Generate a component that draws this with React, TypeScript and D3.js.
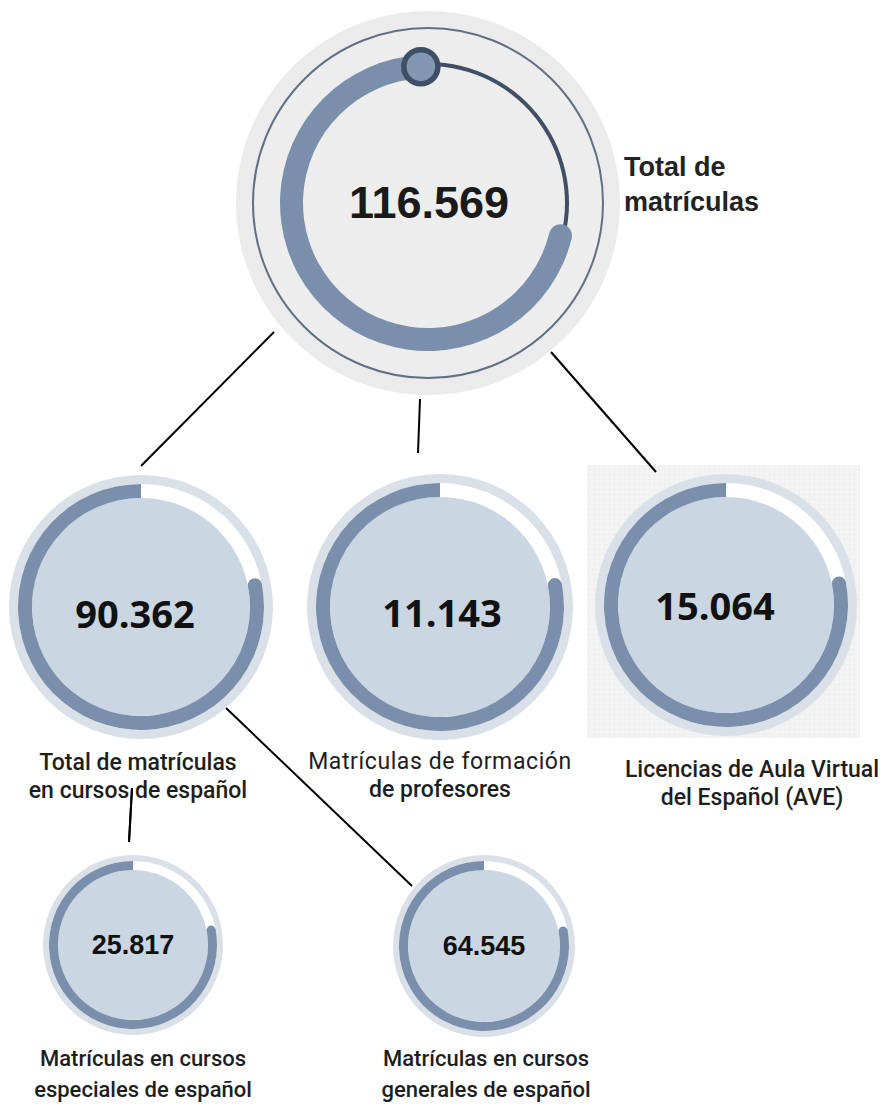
import React from "react";
import * as d3 from "d3";

// ---------- data ----------
const nodeIds = ["total", "cursos", "formacion", "ave", "especiales", "generales"];
const nodeValues = [116569, 90362, 11143, 15064, 25817, 64545];
const nodeParents = [null, "total", "total", "total", "cursos", "cursos"];
const progressShare = [0.703, 0.78, 0.78, 0.78, 0.78, 0.78];
const labelLines = [
  ["Total de", "matrículas"],
  ["Total de matrículas", "en cursos de español"],
  ["Matrículas de formación", "de profesores"],
  ["Licencias de Aula Virtual", "del Español (AVE)"],
  ["Matrículas en cursos", "especiales de español"],
  ["Matrículas en cursos", "generales de español"],
];

// ---------- layout ----------
const W = 880;
const H = 1106;
type Lay = { cx: number; cy: number; r: number; arcOut: number; arcIn: number; vSize: number; vFont: string; vDx: number; vDy: number; lx: number; ly: number; lSize: number; lGap: number; anchor: string };
const layout: Record<string, Lay> = {
  total: { cx: 428, cy: 203, r: 192, arcOut: 148, arcIn: 125, vSize: 45, vFont: "'Liberation Sans', Arial, sans-serif", vDx: 1, vDy: 15, lx: 624, ly: 176, lSize: 27, lGap: 35, anchor: "start" },
  cursos: { cx: 141, cy: 607, r: 132, arcOut: 123, arcIn: 109, vSize: 38, vFont: "'Open Sans', sans-serif", vDx: -6, vDy: 21, lx: 138, ly: 770, lSize: 23, lGap: 28, anchor: "middle" },
  formacion: { cx: 440, cy: 607, r: 133, arcOut: 124, arcIn: 110, vSize: 38, vFont: "'Open Sans', sans-serif", vDx: 2, vDy: 20, lx: 440, ly: 769, lSize: 23, lGap: 28, anchor: "middle" },
  ave: { cx: 726, cy: 605, r: 131, arcOut: 122, arcIn: 108, vSize: 38, vFont: "'Open Sans', sans-serif", vDx: -11, vDy: 15, lx: 752, ly: 777, lSize: 23, lGap: 28, anchor: "middle" },
  especiales: { cx: 133, cy: 945, r: 90, arcOut: 84, arcIn: 75, vSize: 27, vFont: "'Liberation Sans', Arial, sans-serif", vDx: 0, vDy: 9, lx: 143, ly: 1066, lSize: 22, lGap: 31, anchor: "middle" },
  generales: { cx: 484, cy: 946, r: 91, arcOut: 85, arcIn: 76, vSize: 27, vFont: "'Liberation Sans', Arial, sans-serif", vDx: 0, vDy: 9, lx: 486, ly: 1066, lSize: 22, lGap: 31, anchor: "middle" },
};
// connector anchors: offsets from parent centre and from child centre
const connectorOffsets: Record<string, [number, number, number, number]> = {
  cursos: [-154, 129, 0, -141],
  formacion: [-8, 196, -22, -154],
  ave: [123, 149, -70, -133],
  especiales: [-9, 181, -4, -103],
  generales: [85, 101, -72, -60],
};

const ARC = "#7a8fab";
const DARK = "#3f4f66";
const FILL = "#cbd6e3";
const RING = "#d9e0e8";

const fmt = d3.formatLocale({ decimal: ",", thousands: ".", grouping: [3], currency: ["", " €"] }).format(",d");
const arcGen = d3.arc<any>();
const TAU = Math.PI * 2;

function ChildNode({ i }: { i: number }) {
  const id = nodeIds[i];
  const L = layout[id];
  const start = TAU * (1 - progressShare[i]);
  const mid = (L.arcOut + L.arcIn) / 2;
  const capR = (L.arcOut - L.arcIn) / 2;
  const arcPath = arcGen({ innerRadius: L.arcIn, outerRadius: L.arcOut, startAngle: start, endAngle: TAU }) as string;
  return (
    <g transform={`translate(${L.cx},${L.cy})`}>
      <circle r={L.r} fill={RING} />
      <circle r={L.arcOut} fill="#ffffff" />
      <circle r={L.arcIn} fill={FILL} />
      <path d={arcPath} fill={ARC} />
      <circle cx={mid * Math.sin(start)} cy={-mid * Math.cos(start)} r={capR} fill={ARC} />
      <text x={L.vDx} y={L.vDy} textAnchor="middle" fontFamily={L.vFont} fontWeight={700} fontSize={L.vSize} fill="#111">
        {fmt(nodeValues[i])}
      </text>
    </g>
  );
}

function TopNode() {
  const i = 0;
  const L = layout.total;
  const knobA = (-3 * Math.PI) / 180;
  const end = TAU + knobA;
  const start = end - TAU * progressShare[i];
  const mid = (L.arcOut + L.arcIn) / 2;
  const capR = (L.arcOut - L.arcIn) / 2;
  const thick = arcGen({ innerRadius: L.arcIn, outerRadius: L.arcOut, startAngle: start, endAngle: end }) as string;
  const thin = arcGen({ innerRadius: mid + 0.5, outerRadius: mid + 4.5, startAngle: knobA, endAngle: start }) as string;
  return (
    <g transform={`translate(${L.cx},${L.cy})`}>
      <circle r={L.r} fill="#ebebeb" />
      <circle r={175} fill="#ededed" stroke="#5f6f86" strokeWidth={2} />
      <path d={thin} fill={DARK} />
      <path d={thick} fill={ARC} />
      <circle cx={mid * Math.sin(start)} cy={-mid * Math.cos(start)} r={capR} fill={ARC} />
      <circle cx={mid * Math.sin(knobA)} cy={-mid * Math.cos(knobA)} r={17} fill="#8396b2" stroke={DARK} strokeWidth={5.5} />
      <text x={L.vDx} y={L.vDy} textAnchor="middle" fontFamily={L.vFont} fontWeight={700} fontSize={L.vSize} fill="#1a1a1a">
        {fmt(nodeValues[i])}
      </text>
    </g>
  );
}

function Label({ i }: { i: number }) {
  const L = layout[nodeIds[i]];
  const lines = labelLines[i];
  const isTop = i === 0;
  return (
    <g>
      {lines.map((t, k) => {
        const light = nodeIds[i] === "formacion" && k === 0;
        return (
          <text
            key={k}
            x={L.lx}
            y={L.ly + k * L.lGap}
            textAnchor={L.anchor as any}
            fontFamily={isTop ? "'Liberation Sans', Arial, sans-serif" : "Roboto, sans-serif"}
            fontWeight={isTop ? 700 : light ? 400 : 500}
            letterSpacing={light ? 0.6 : 0}
            fontSize={L.lSize}
            fill={isTop ? "#222" : "#1e1e1e"}
          >
            {t}
          </text>
        );
      })}
    </g>
  );
}

export default function App() {
  return (
    <svg width={W} height={H} viewBox={`0 0 ${W} ${H}`} style={{ position: "absolute", left: 0, top: 0, background: "#fff" }}>
      <defs>
        <pattern id="grid" width={5} height={5} patternUnits="userSpaceOnUse">
          <rect width={5} height={5} fill="#f4f4f4" />
          <path d="M5 0 V5 M0 5 H5" stroke="#e9e9e9" strokeWidth={0.7} />
        </pattern>
      </defs>
      <rect x={587} y={465} width={273} height={273} fill="url(#grid)" />
      {nodeIds.map((id, i) => {
        const p = nodeParents[i];
        if (!p) return null;
        const P = layout[p];
        const C = layout[id];
        const o = connectorOffsets[id];
        return (
          <line key={"c" + id} x1={P.cx + o[0]} y1={P.cy + o[1]} x2={C.cx + o[2]} y2={C.cy + o[3]} stroke="#000" strokeWidth={2} />
        );
      })}
      <TopNode />
      {nodeIds.map((id, i) => (i === 0 ? null : <ChildNode key={id} i={i} />))}
      {nodeIds.map((id, i) => (
        <Label key={"l" + id} i={i} />
      ))}
      {/* the connector from "cursos" to "especiales" is drawn over its label in the reference */}
      {(() => {
        const i = nodeIds.indexOf("especiales");
        const P = layout[nodeParents[i] as string];
        const C = layout.especiales;
        const o = connectorOffsets.especiales;
        return <line x1={P.cx + o[0]} y1={P.cy + o[1]} x2={C.cx + o[2]} y2={C.cy + o[3]} stroke="#000" strokeWidth={2} />;
      })()}
    </svg>
  );
}
